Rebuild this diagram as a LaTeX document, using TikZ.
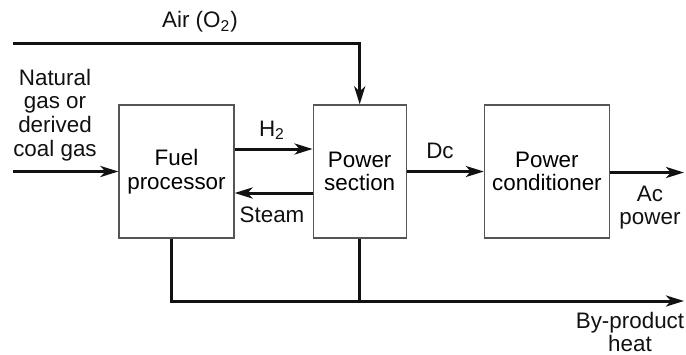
\documentclass[tikz,border=0pt]{standalone}
\usepackage{fontspec}
\setmainfont{Liberation Sans}
\usetikzlibrary{arrows.meta,positioning}
\definecolor{ink}{HTML}{111111}
\definecolor{edge}{HTML}{555555}
\tikzset{
  unitbox/.style={rectangle, draw=edge, fill=white, line width=0.6pt, align=center,
                  inner sep=2pt, minimum height=66.5pt, font=\fontsize{11.2}{11.8}\selectfont},
  lbl/.style={font=\fontsize{11.2}{11.8}\selectfont, text=ink, align=center, inner sep=0pt},
  flow/.style={-{Stealth[length=9pt, width=5.5pt, inset=2.5pt]}, draw=ink, line width=1.5pt},
  pipe/.style={draw=ink, line width=1.5pt}
}
\begin{document}
\begin{tikzpicture}[x=0.5pt, y=-0.5pt]
  \useasboundingbox (0,0) rectangle (686,354);
  \node[unitbox, minimum width=57.5pt] (fp) at (176.5,171.5) {Fuel\\processor};
  \node[unitbox, right=39pt of fp, minimum width=46.5pt] (ps) {Power\\section};
  \node[unitbox, right=38.5pt of ps, minimum width=62.5pt] (pc) {Power\\conditioner};
  \coordinate (airin) at (13,43);
  \coordinate (gasin) at (13,171.5);
  \coordinate (acout) at (684,172.5);
  \coordinate (heatout) at (684,301);
  % streams
  \draw[flow] (airin) -| (ps.north);
  \draw[flow] (gasin) -- (fp.west);
  \draw[flow] ([yshift=11.25pt]fp.east) -- ([yshift=11.25pt]ps.west);
  \draw[flow] ([yshift=-10.75pt]ps.west) -- ([yshift=-10.75pt]fp.east);
  \draw[flow] (ps.east) -- (pc.west);
  \draw[flow] (pc.east |- acout) -- (acout);
  \draw[flow] ([xshift=-2.75pt]fp.south) |- (heatout);
  \draw[pipe] (ps.south) -- (ps.south |- heatout);
  % labels
  \node[lbl] (airlbl) at (200,22) {Air (O\textsubscript{2})};
  \node[lbl] (gaslbl) at (55,115) {Natural\\gas or\\derived\\coal gas};
  \node[lbl] (h2lbl) at (272,130) {H\textsubscript{2}};
  \node[lbl] (stmlbl) at (272,215) {Steam};
  \node[lbl] (dclbl) at (440,151) {Dc};
  \node[lbl] (aclbl) at (650,207.5) {Ac\\power};
  \node[lbl] (heatlbl) at (630,332) {By-product\\heat};
\end{tikzpicture}
\end{document}
